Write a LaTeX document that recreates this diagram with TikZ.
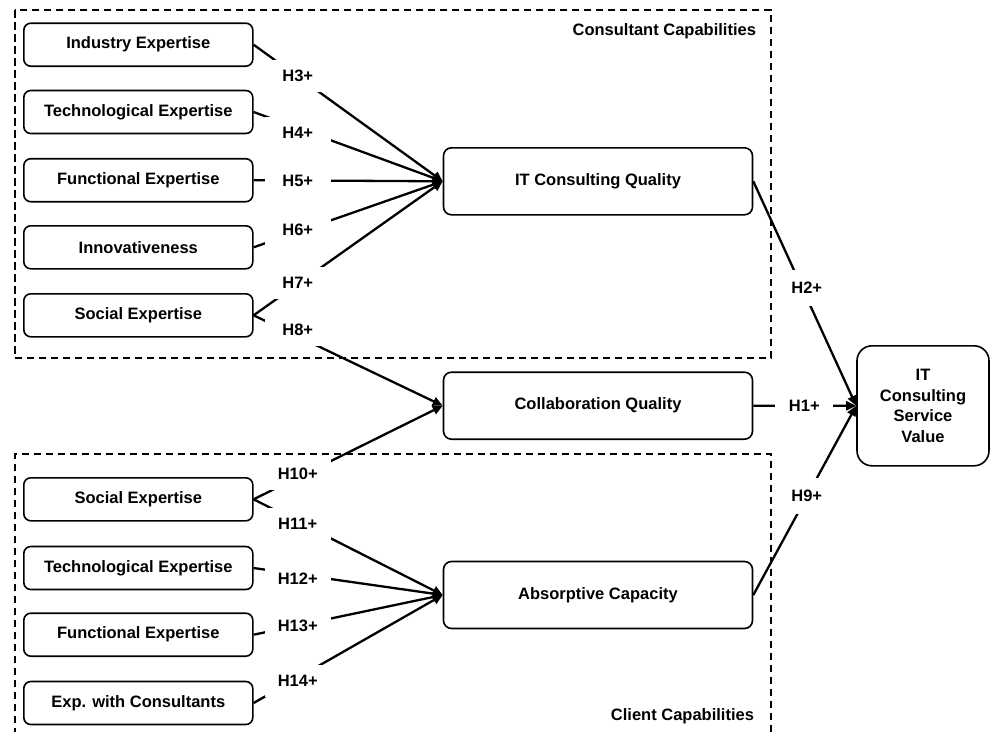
\documentclass[tikz,border=0pt]{standalone}
\usepackage{fontspec}
\setmainfont{Liberation Sans}
\usetikzlibrary{arrows.meta}
\begin{document}
\begin{tikzpicture}[x=1pt,y=-1pt,
  font=\fontsize{16.5}{20.4}\selectfont\bfseries,
  smallbox/.style={draw, line width=1.6pt, rounded corners=7pt, minimum width=229pt, minimum height=43pt, inner sep=0pt},
  midbox/.style={draw, line width=1.6pt, rounded corners=8pt, minimum width=309pt, minimum height=67pt, inner sep=0pt},
  bigbox/.style={draw, line width=1.6pt, rounded corners=15pt, minimum width=132pt, minimum height=120pt, inner sep=0pt, align=center},
  conn/.style={line width=2.3pt, -{Triangle[length=10pt,width=9pt]}},
  lab/.style={fill=white, inner sep=0pt, minimum width=66pt, minimum height=32pt},
  rlab/.style={fill=white, inner sep=0pt, minimum width=58pt, minimum height=36pt},
  dashbox/.style={line width=2.4pt, dash pattern=on 7.5pt off 4.5pt}
]
\useasboundingbox (0,0) rectangle (990,731);

% dashed group frames
\draw[dashbox] (14.7,10) rectangle (771,358);
\draw[dashbox] (14.7,735) -- (14.7,454) -- (771,454) -- (771,735);
\node[anchor=east] (capcons) at (759.5,31) {Consultant Capabilities};
\node[anchor=east] (capcli) at (757.5,716.5) {Client Capabilities};

% consultant capability boxes
\node[smallbox] (ie) at (138.3,44.7) {Industry Expertise};
\node[smallbox] (te) at (138.3,112) {Technological Expertise};
\node[smallbox] (fe) at (138.3,180.2) {Functional Expertise};
\node[smallbox] (in) at (138.3,247.3) {Innovativeness};
\node[smallbox] (se) at (138.3,315.3) {Social Expertise};

% client capability boxes
\node[smallbox] (cse) at (138.3,499.3) {Social Expertise};
\node[smallbox] (cte) at (138.3,568) {Technological Expertise};
\node[smallbox] (cfe) at (138.3,634.7) {Functional Expertise};
\node[smallbox] (cex) at (138.3,703) {Exp. with Consultants};

% middle boxes
\node[midbox] (itcq) at (598,181.3) {IT Consulting Quality};
\node[midbox] (colq) at (598,405.7) {Collaboration Quality};
\node[midbox] (absc) at (598,595) {Absorptive Capacity};

% outcome
\node[bigbox] (itcsv) at (923,405.8) {IT\\Consulting\\Service\\Value};

% connectors
\draw[conn] (ie.east) -- (itcq.west);
\draw[conn] (te.east) -- (itcq.west);
\draw[conn] (fe.east) -- (itcq.west);
\draw[conn] (in.east) -- (itcq.west);
\draw[conn] (se.east) -- (itcq.west);
\draw[conn] (se.east) -- (colq.west);
\draw[conn] (cse.east) -- (colq.west);
\draw[conn] (cse.east) -- (absc.west);
\draw[conn] (cte.east) -- (absc.west);
\draw[conn] (cfe.east) -- (absc.west);
\draw[conn] (cex.east) -- (absc.west);
\draw[conn] (itcq.east) -- (itcsv.west);
\draw[conn] (colq.east) -- (itcsv.west);
\draw[conn] (absc.east) -- (itcsv.west);

% hypothesis labels
\node[lab] (h3) at (297.7,76) {H3+};
\node[lab] (h4) at (297.7,133) {H4+};
\node[lab] (h5) at (297.7,181.3) {H5+};
\node[lab] (h6) at (297.7,230) {H6+};
\node[lab] (h7) at (297.7,283) {H7+};
\node[lab] (h8) at (297.7,330) {H8+};
\node[lab] (h10) at (297.7,474.3) {H10+};
\node[lab] (h11) at (297.7,523.7) {H11+};
\node[lab] (h12) at (297.7,578.7) {H12+};
\node[lab] (h13) at (297.7,625.7) {H13+};
\node[lab] (h14) at (297.7,681.3) {H14+};
\node[rlab] (h2) at (806.7,288) {H2+};
\node[rlab] (h1) at (804.3,405.7) {H1+};
\node[rlab] (h9) at (806.7,496.3) {H9+};
\end{tikzpicture}
\end{document}
